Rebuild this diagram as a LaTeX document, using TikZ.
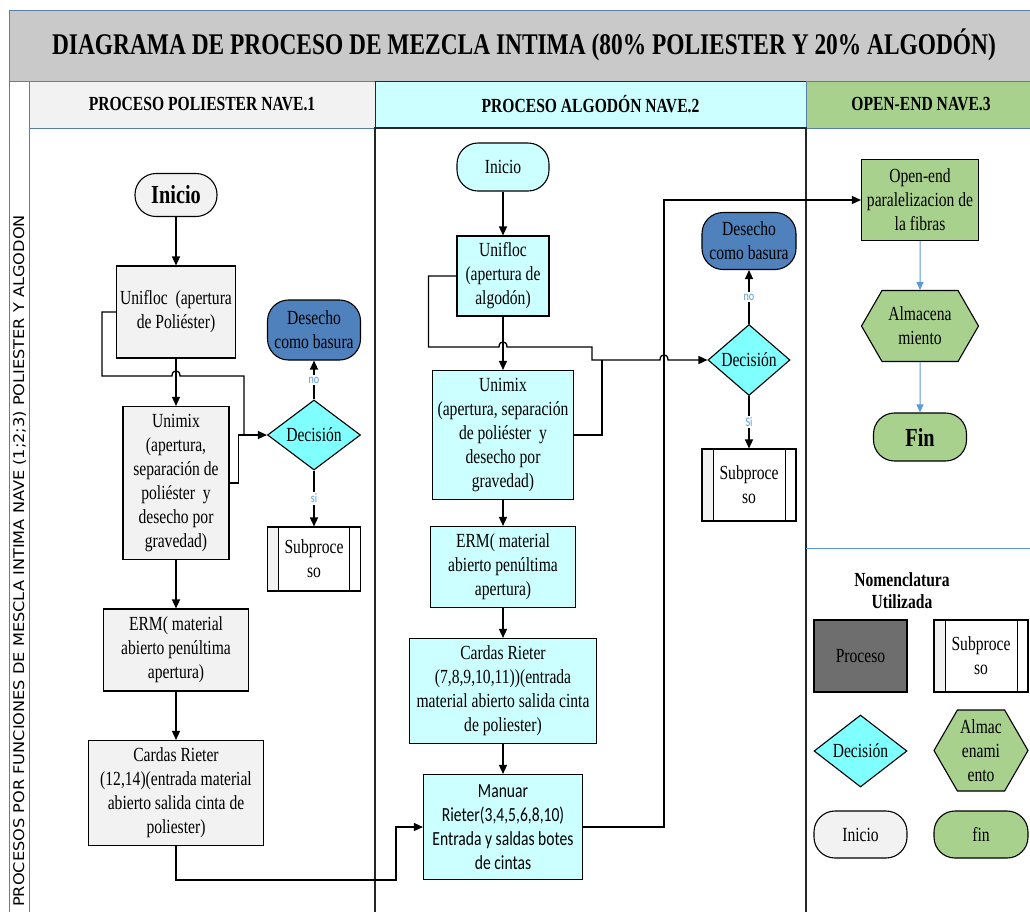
\documentclass[tikz,border=0pt]{standalone}
\usepackage{fontspec}
\setmainfont{Liberation Serif}[FakeStretch=0.78]
\newfontfamily\calib{Carlito}[FakeStretch=0.78]
\newfontfamily\ladofont{DejaVu Sans}[FakeStretch=1.1]
\usetikzlibrary{arrows.meta,shapes.geometric,shapes.symbols}

\definecolor{grisT}{HTML}{C9C9C9}
\definecolor{grisC}{HTML}{F2F2F2}
\definecolor{grisP}{HTML}{6E6E6E}
\definecolor{celeste}{HTML}{CCFFFF}
\definecolor{cian}{HTML}{80FFFF}
\definecolor{verde}{HTML}{A9D18E}
\definecolor{azulD}{HTML}{4F81BD}
\definecolor{azulL}{HTML}{5B9BD5}
\definecolor{marco}{HTML}{5A7FAF}

\begin{document}
\begin{tikzpicture}[x=1pt,y=-1pt,
    txt/.style={font=\fontsize{20}{24}\selectfont, align=center, inner sep=0pt},
    caja/.style={txt, draw, line width=1.1pt},
    term/.style={caja, rounded corners=21pt},
    deci/.style={caja, diamond, fill=cian},
    subp/.style={caja, fill=white, path picture={
        \fill[grisC] (path picture bounding box.north west) rectangle ([xshift=11pt]path picture bounding box.south west);
        \draw[line width=0.8pt] ([xshift=11pt]path picture bounding box.north west) -- ([xshift=11pt]path picture bounding box.south west)
              ([xshift=-11pt]path picture bounding box.north east) -- ([xshift=-11pt]path picture bounding box.south east);}},
    alma/.style={caja, signal, signal to=east and west, signal pointer angle=120, fill=verde},
    cab/.style={draw, line width=1pt, font=\bfseries\fontsize{20}{24}\selectfont, minimum height=47pt},
    flecha/.style={-{Triangle[length=9pt,width=8pt]}, line width=1.3pt},
    flechaA/.style={-{Triangle[length=8pt,width=7pt]}, line width=1pt, color=azulL},
    etq/.style={font=\calib\fontsize{13}{14}\selectfont, text=azulL, fill=white, inner sep=1.5pt}]

\useasboundingbox (0,0) rectangle (1030,911);
\fill[white] (0,0) rectangle (1030,911);

% marco y carriles
\draw[marco, line width=1pt, fill=grisT] (9,10) rectangle (1040,81);
\node[font=\bfseries\fontsize{30}{36}\selectfont] (titulo) at (524,45) {DIAGRAMA DE PROCESO DE MEZCLA INTIMA (80\% POLIESTER Y 20\% ALGODÓN)};
\draw[marco, line width=1pt] (9,81) rectangle (29,920);
\node[rotate=90, inner sep=0pt, font=\ladofont\fontsize{14.7}{16}\selectfont] (lado) at (19.5,561) {PROCESOS POR FUNCIONES DE MESCLA INTIMA NAVE (1;2;3) POLIESTER Y ALGODON};
\node[cab, draw=marco, fill=grisC, minimum width=346pt] (cab1) at (202,104.5) {PROCESO POLIESTER NAVE.1};
\node[cab, draw=black!85, fill=celeste, minimum width=431pt] (cab2) at (590.5,104.5) {PROCESO ALGODÓN NAVE.2};
\node[cab, draw=marco, fill=verde, minimum width=230pt] (cab3) at (921,104.5) {OPEN-END NAVE.3};
\draw[marco, line width=1pt] (29,128) rectangle (375,920);
\draw[marco, line width=1pt] (806,128) rectangle (1040,920);
\draw[black!85, line width=1.2pt] (375,128) rectangle (806,920);
\draw[azulL, line width=1pt] (806,548) -- (1040,548);

% nave 1
\node[term, fill=grisC, minimum width=82pt, minimum height=43pt, font=\bfseries\fontsize{26}{30}\selectfont] (ini1) at (176,195) {Inicio};
\node[caja, fill=grisC, minimum width=119pt, minimum height=92pt] (uf1) at (176,312) {Unifloc\ \ (apertura\\de Poliéster)};
\node[caja, fill=grisC, minimum width=106pt, minimum height=153pt] (um1) at (176,483) {Unimix\\(apertura,\\separación de\\poliéster\ \ y\\desecho por\\gravedad)};
\node[deci, minimum width=93pt, minimum height=70pt] (dec1) at (314,435) {Decisión};
\node[term, fill=azulD, minimum width=93pt, minimum height=60pt] (des1) at (314,330) {Desecho\\como basura};
\node[subp, minimum width=93pt, minimum height=64pt] (sub1) at (314,559) {Subproce\\so};
\node[caja, fill=grisC, minimum width=145pt, minimum height=82pt] (erm1) at (176,650) {ERM( material\\abierto penúltima\\apertura)};
\node[caja, fill=grisC, minimum width=175pt, minimum height=105pt] (car1) at (176,793) {Cardas Rieter\\(12,14)(entrada material\\abierto salida cinta de\\poliester)};

% nave 2
\node[term, fill=celeste, minimum width=92pt, minimum height=48pt] (ini2) at (503,167) {Inicio};
\node[caja, fill=celeste, minimum width=92pt, minimum height=80pt] (uf2) at (503,276) {Unifloc\\(apertura de\\algodón)};
\node[caja, fill=celeste, minimum width=141pt, minimum height=129pt] (um2) at (503,435) {Unimix\\(apertura, separación\\de poliéster\ \ y\\desecho por\\gravedad)};
\node[deci, minimum width=82pt, minimum height=71pt] (dec2) at (749,360) {Decisión};
\node[term, fill=azulD, minimum width=94pt, minimum height=57pt] (des2) at (749,241) {Desecho\\como basura};
\node[subp, minimum width=94pt, minimum height=72pt] (sub2) at (749,485) {Subproce\\so};
\node[caja, fill=celeste, minimum width=145pt, minimum height=81pt] (erm2) at (503,567) {ERM( material\\abierto penúltima\\apertura)};
\node[caja, fill=celeste, minimum width=187pt, minimum height=105pt] (car2) at (503,691) {Cardas Rieter\\(7,8,9,10,11))(entrada\\material abierto salida cinta\\de poliester)};
\node[caja, fill=celeste, minimum width=159pt, minimum height=105pt, font=\calib\fontsize{20}{24}\selectfont] (man2) at (503,827) {Manuar\\Rieter(3,4,5,6,8,10)\\Entrada y saldas botes\\de cintas};

% nave 3
\node[caja, fill=verde, minimum width=117pt, minimum height=81pt] (ope) at (920,200) {Open-end\\paralelizacion de\\la fibras};
\node[alma, minimum width=117pt, minimum height=71pt] (alm) at (920,326) {Almacena\\miento};
\node[term, fill=verde, minimum width=93pt, minimum height=48pt, font=\bfseries\fontsize{26}{30}\selectfont] (fin) at (920,437) {Fin};

% nomenclatura
\node[font=\bfseries\fontsize{20}{22}\selectfont, align=center] (nom) at (902,591) {Nomenclatura\\Utilizada};
\node[caja, fill=grisP, minimum width=93pt, minimum height=72pt] (lp) at (860.5,656) {Proceso};
\node[subp, minimum width=94pt, minimum height=72pt] (ls) at (981,656) {Subproce\\so};
\node[deci, minimum width=93pt, minimum height=72pt] (ld) at (860.5,751) {Decisión};
\node[alma, minimum width=94pt, minimum height=81pt] (la) at (981,750.5) {Almac\\enami\\ento};
\node[term, fill=grisC, minimum width=93pt, minimum height=47pt] (li) at (860.5,834.5) {Inicio};
\node[term, fill=verde, minimum width=94pt, minimum height=47pt] (lf) at (981,834.5) {fin};

% conectores
\coordinate (h1) at (176,376);
\coordinate (j1) at (244,435);
\coordinate (h2) at (503,347);
\coordinate (j2) at (602,360);
\coordinate (h3) at (664,360);
\coordinate (c2) at (396,880);
\coordinate (k1) at (664,827);

\draw[flecha] (ini1) -- (uf1);
\draw[flecha] (uf1) -- (um1);
\draw[line width=1.3pt] (uf1.west) -- ++(-14,0) |- ([xshift=-4pt]h1) .. controls +(0,-7) and +(0,-7) .. ([xshift=4pt]h1) -| (j1);
\draw[flecha] (um1.east) -- ++(9,0) |- (dec1.west);
\draw[flecha] (dec1.north) -- (des1.south) node[etq, midway] {no};
\draw[flecha] (dec1.south) -- (sub1.north) node[etq, midway] {si};
\draw[flecha] (um1) -- (erm1);
\draw[flecha] (erm1) -- (car1);
\draw[flecha] (car1.south) |- (c2) |- (man2.west);

\draw[flecha] (ini2) -- (uf2);
\draw[flecha] (uf2) -- (um2);
\draw[flecha] (uf2.west) -- ++(-28,0) |- ([xshift=-4pt]h2) .. controls +(0,-7) and +(0,-7) .. ([xshift=4pt]h2) -| (592,360) -- ([xshift=-4pt]h3) .. controls +(0,-7) and +(0,-7) .. ([xshift=4pt]h3) -- (dec2.west);
\draw[line width=1.3pt] (um2.east) -| (j2);
\draw[flecha] (dec2.north) -- (des2.south) node[etq, midway] {no};
\draw[flecha] (dec2.south) -- (sub2.north) node[etq, midway] {Si};
\draw[flecha] (um2) -- (erm2);
\draw[flecha] (erm2) -- (car2);
\draw[flecha] (car2) -- (man2);
\draw[flecha] (man2.east) -- (k1) |- (ope.west);

\draw[flechaA] (ope) -- (alm);
\draw[flechaA] (alm) -- (fin);
\end{tikzpicture}
\end{document}
